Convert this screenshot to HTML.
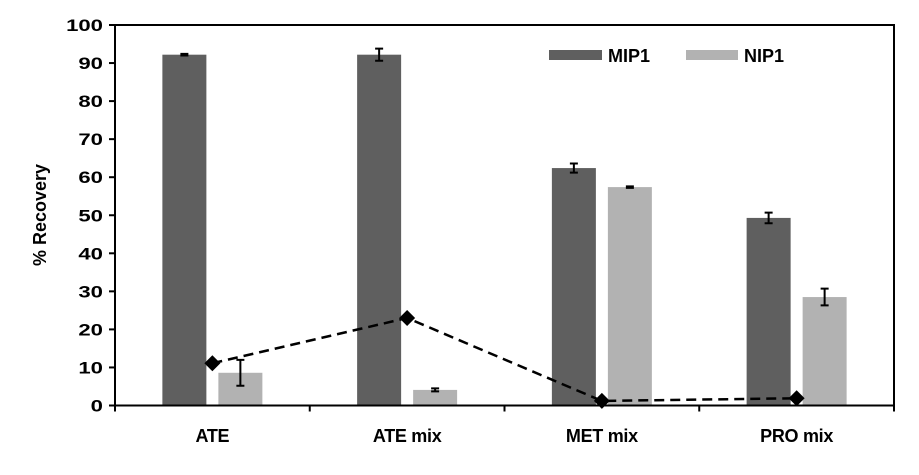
<!DOCTYPE html>
<html><head><meta charset="utf-8"><style>
body{margin:0;background:#fff;}
svg text{font-family:"Liberation Sans",Arial,sans-serif;font-weight:bold;fill:#000;}
</style></head><body>
<svg id="chart" width="919" height="470" xmlns="http://www.w3.org/2000/svg"></svg>
<script>
const categories = ["ATE","ATE mix","MET mix","PRO mix"];
const mipValues = [92.2, 92.2, 62.4, 49.3];
const mipErrors = [0.2, 1.6, 1.2, 1.4];
const nipValues = [8.6, 4.1, 57.4, 28.5];
const nipErrors = [3.4, 0.4, 0.2, 2.2];
const lineValues = [11.1, 23.0, 1.2, 1.9];
const yTicks = [0,10,20,30,40,50,60,70,80,90,100];

const NS="http://www.w3.org/2000/svg";
const svg=document.getElementById('chart');
const L=115,R=894,T=25,B=405.5;
const y=v=>B-(v/100)*(B-T);
const bw=(R-L)/categories.length;
const cx=i=>L+bw*(i+0.5);
function mk(tag,attrs){const e=document.createElementNS(NS,tag);for(const k in attrs)e.setAttribute(k,attrs[k]);svg.appendChild(e);return e;}

categories.forEach((c,i)=>{
  let r=mk('rect',{x:cx(i)-50,y:y(mipValues[i]),width:44,height:B-y(mipValues[i]),fill:'#5f5f5f'});
  
  
  let r2=mk('rect',{x:cx(i)+6,y:y(nipValues[i]),width:44,height:B-y(nipValues[i]),fill:'#b2b2b2'});
  
  
  [[cx(i)-28,mipValues[i],mipErrors[i]],[cx(i)+28,nipValues[i],nipErrors[i]]].forEach(([x,v,e])=>{
    let p=mk('path',{d:`M${x},${y(v+e)}V${y(v-e)}M${x-4},${y(v+e)}H${x+4}M${x-4},${y(v-e)}H${x+4}`,stroke:'#000','stroke-width':2,fill:'none'});
    
    
  });
});
let ax=mk('path',{d:`M${L},${T}V${B}H${R}V${T}H${L}`,stroke:'#000','stroke-width':2,fill:'none'});


yTicks.forEach(t=>{
  let l=mk('line',{x1:L-6,x2:L,y1:y(t),y2:y(t),stroke:'#000','stroke-width':2});
  
  
  const s=String(t);
  let tx=mk('text',{x:103,y:y(t)+6,'text-anchor':'end','font-size':17,textLength:s.length*12.3,lengthAdjust:'spacingAndGlyphs'});
  tx.textContent=s;
  
  
});
for(let i=0;i<=categories.length;i++){
  let l=mk('line',{x1:L+bw*i,x2:L+bw*i,y1:B,y2:B+6,stroke:'#000','stroke-width':2});
  
  
}
categories.forEach((c,i)=>{
  let tx=mk('text',{x:cx(i),y:442,'text-anchor':'middle','font-size':18,'letter-spacing':'-0.3'});
  tx.textContent=c;
  
  
});
let pts=lineValues.map((v,i)=>cx(i)+','+y(v)).join(' ');
let pl=mk('polyline',{points:pts,fill:'none',stroke:'#000','stroke-width':2.5,'stroke-dasharray':'10,6'});


lineValues.forEach((v,i)=>{
  let d=mk('path',{d:`M${cx(i)},${y(v)-8}L${cx(i)+8},${y(v)}L${cx(i)},${y(v)+8}L${cx(i)-8},${y(v)}Z`,fill:'#000'});
  
  
});
let yt=mk('text',{x:0,y:0,'text-anchor':'middle','font-size':18,transform:'translate(46,215) rotate(-90)'});
yt.textContent='% Recovery';


let s1=mk('rect',{x:549,y:50,width:53,height:10,fill:'#5f5f5f'});


let t1=mk('text',{x:608,y:62,'font-size':18});t1.textContent='MIP1';


let s2=mk('rect',{x:686,y:50,width:52,height:10,fill:'#b2b2b2'});


let t2=mk('text',{x:744,y:62,'font-size':18});t2.textContent='NIP1';


</script>
</body></html>
